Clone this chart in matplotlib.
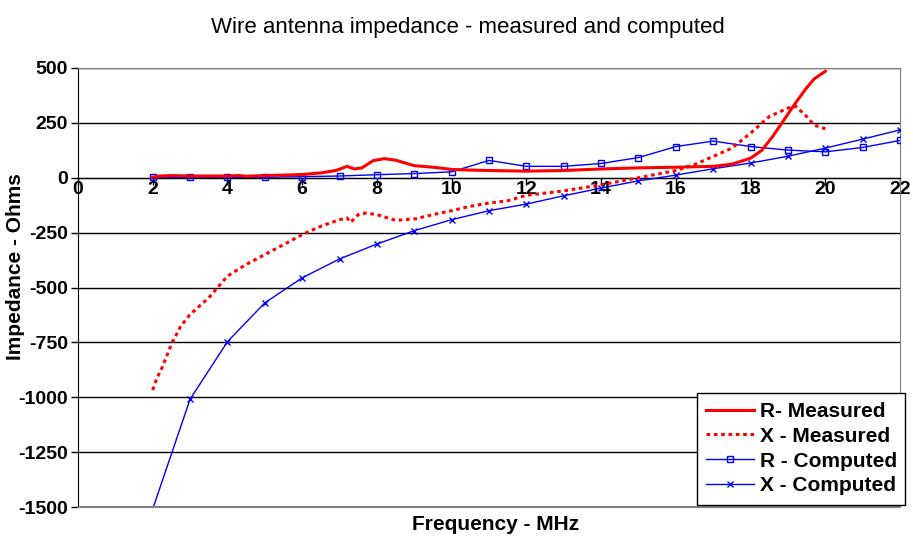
import matplotlib.pyplot as plt

plt.rcParams['font.family'] = ['Liberation Sans', 'DejaVu Sans']
plt.rcParams['axes.unicode_minus'] = False

# measured resistance (MHz, Ohms)
r_meas_f = [2.0, 2.2, 2.5, 3.0, 3.5, 4.0, 4.3, 4.5, 5.0, 5.5, 6.0, 6.5, 6.9, 7.2, 7.4,
            7.6, 7.9, 8.2, 8.5, 8.8, 9.0, 9.5, 10.0, 10.5, 11.0, 12.0, 13.0, 14.0,
            15.0, 16.0, 17.0, 17.5, 18.0, 18.3, 18.6, 18.9, 19.2, 19.5, 19.7, 20.0]
r_meas = [3, 8, 10, 8, 8, 8, 10, 7, 10, 12, 15, 22, 33, 52, 40,
          45, 78, 87, 80, 65, 55, 48, 38, 35, 33, 30, 33, 40,
          45, 48, 52, 62, 89, 125, 190, 265, 340, 410, 450, 485]

# measured reactance
x_meas_f = [2.0, 2.1, 2.25, 2.5, 2.75, 3.0, 3.5, 4.0, 4.5, 5.0, 5.5, 6.0, 6.5, 7.0,
            7.2, 7.3, 7.5, 7.7, 8.0, 8.5, 9.0, 9.5, 10.0, 10.5, 11.0, 11.5, 12.0,
            13.0, 14.0, 15.0, 16.0, 16.5, 17.0, 17.5, 18.0, 18.5, 19.0, 19.2,
            19.5, 19.7, 20.0]
x_meas = [-967, -918, -865, -759, -676, -623, -547, -448, -395, -350, -305, -259, -221, -191,
          -183, -203, -168, -161, -168, -194, -188, -168, -150, -130, -115, -105, -80,
          -60, -32, 0, 33, 60, 97, 135, 203, 279, 317, 327,
          279, 240, 223]

# computed values at integer frequencies
comp_f = list(range(2, 23))
r_comp = [2, 2, 2, 2, 5, 8, 14, 19, 27, 79, 52, 52, 65, 92, 142, 167, 142, 126, 118, 138, 170]
x_comp = [-1509, -1009, -747, -570, -456, -370, -302, -241, -191, -150, -120, -82, -47, -14,
          12, 41, 67, 98, 135, 176, 218]

fig = plt.figure(figsize=(9.13, 5.44), dpi=100)
ax = fig.add_axes([0.0854, 0.068, 0.9004, 0.807])

ax.plot(r_meas_f, r_meas, color='#ff0000', lw=2.2, label='R- Measured', zorder=4)
ax.plot(x_meas_f, x_meas, color='#ff0000', lw=2.2, linestyle=(0, (1.2, 1.2)),
        label='X - Measured', zorder=4)
ax.plot(comp_f, r_comp, color='#0000ff', lw=1, marker='s', ms=5, mfc='none', mew=1,
        label='R - Computed', zorder=3)
ax.plot(comp_f, x_comp, color='#0000ff', lw=1, marker='x', ms=4, mew=1,
        label='X - Computed', zorder=3)

ax.set_xlim(0, 22)
ax.set_ylim(-1500, 500)
ax.set_xticks(range(0, 23, 2))
ax.set_yticks(range(-1500, 501, 250))
ax.grid(axis='y', color='black', lw=1)
ax.set_axisbelow(True)

ax.spines['bottom'].set_position(('data', 0))
ax.spines['bottom'].set_color('black')
ax.spines['left'].set_color('black')
ax.spines['top'].set_color('#808080')
ax.spines['right'].set_color('#808080')
ax.axhline(-1500, color='#808080', lw=1.5, clip_on=False, zorder=5)
ax.tick_params(direction='out', length=5, width=1, labelsize=14)
ax.tick_params(axis='x', pad=-3)
ax.tick_params(axis='y', pad=2)
for lab in ax.get_xticklabels() + ax.get_yticklabels():
    lab.set_fontweight('bold')

fig.text(0.513, 0.95, 'Wire antenna impedance - measured and computed',
         ha='center', va='center', fontsize=16)
fig.text(0.543, 0.036, 'Frequency - MHz', ha='center', va='center',
         fontsize=15, fontweight='bold')
fig.text(0.017, 0.51, 'Impedance - Ohms', ha='center', va='center',
         rotation=90, fontsize=15, fontweight='bold')

leg = fig.legend(loc='lower left', bbox_to_anchor=(0.763, 0.072, 0.228, 0.202),
                 mode='expand', fancybox=False, framealpha=1, edgecolor='black',
                 prop={'weight': 'bold', 'size': 15}, handlelength=2.3,
                 borderaxespad=0, borderpad=0.45, labelspacing=0.28, handletextpad=0.3)
leg.get_frame().set_linewidth(1)

fig.savefig('out.png', dpi=100)
